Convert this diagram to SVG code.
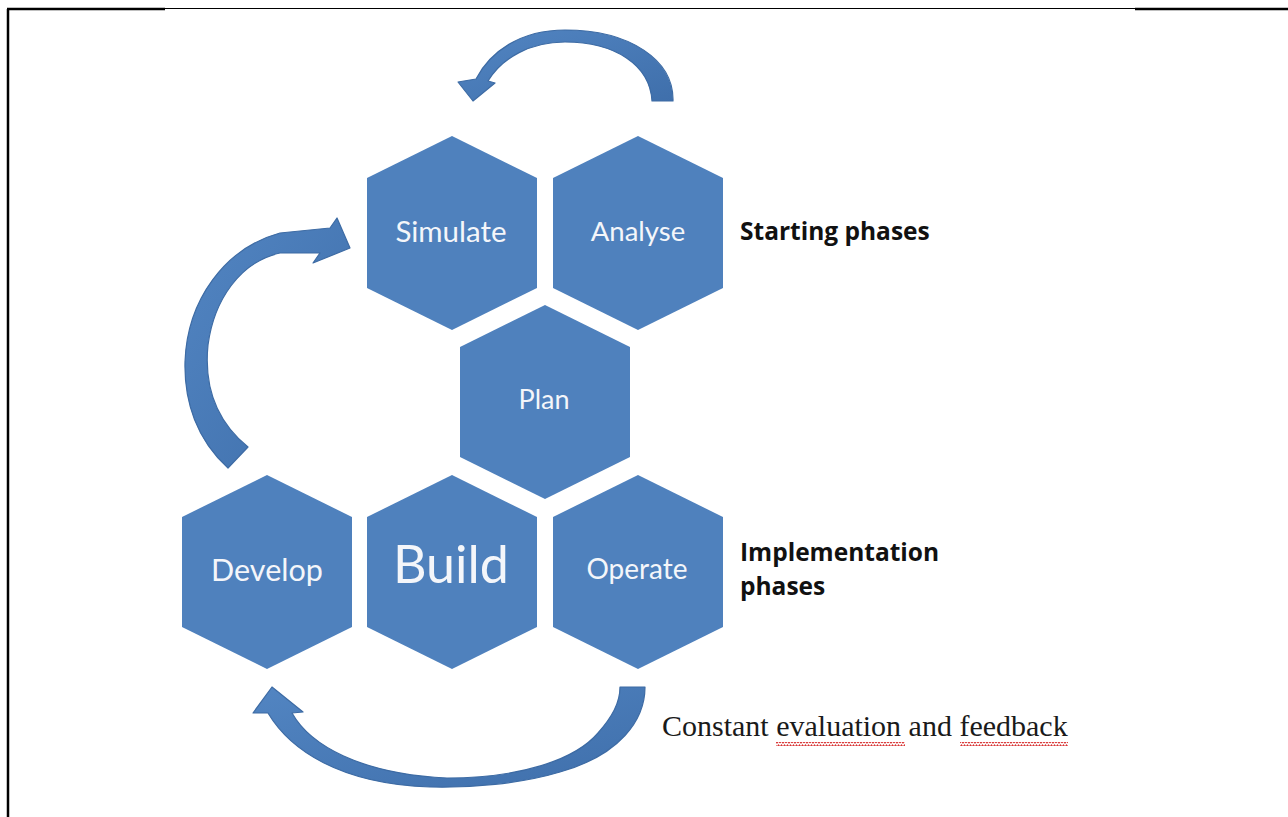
<svg xmlns="http://www.w3.org/2000/svg" width="1288" height="817" viewBox="0 0 1288 817">
  <style>
    .hex { fill: #4f81bd; }
    .lbl { fill: #f4f6fa; font-family: Lato, "Open Sans", sans-serif; text-anchor: middle; }
    .arrow { fill: url(#arrowFill); stroke: #3d6ba4; stroke-width: 1.2; stroke-linejoin: round; }
    .side { fill: #111; font-family: "Open Sans", "Noto Sans", sans-serif; font-weight: bold; font-size: 24.5px; }
    .note { fill: #1a1a1a; font-family: "Liberation Serif", serif; font-size: 30px; }
    .frame { stroke: #000; fill: none; }
  </style>
  <defs>
    <linearGradient id="arrowFill" x1="0" y1="0" x2="1" y2="1">
      <stop offset="0" stop-color="#5285c2"/>
      <stop offset="1" stop-color="#3f6fab"/>
    </linearGradient>
    <pattern id="wave" width="6" height="4" patternUnits="userSpaceOnUse">
      <path d="M0 3 L1.5 1 L3 3 L4.5 1 L6 3" fill="none" stroke="#d93434" stroke-width="1.2"/>
    </pattern>
  </defs>

  <!-- page frame -->
  <g id="frame">
    <line class="frame" x1="8" y1="9" x2="8" y2="817" stroke-width="2.5"/>
    <line class="frame" x1="7" y1="9" x2="165" y2="9" stroke-width="2.5"/>
    <line class="frame" x1="165" y1="8.5" x2="1135" y2="8.5" stroke-width="1"/>
    <line class="frame" x1="1135" y1="9" x2="1288" y2="9" stroke-width="2.5"/>
  </g>

  <!-- curved feedback arrows -->
  <g id="connectors">
    <path id="arrow-top" class="arrow" d="M673 101 C674 60 630 30 565 30 C520 30 490 52 476 79 L458 82 L473 101 L495 83 L488 81 C502 58 530 42 565 42 C615 42 650 65 652 101 Z"/>
    <path id="arrow-left" class="arrow" d="M228 468 C197 440 184 402 185 362 C187 300 225 248 280 233 L330 228 L337 218 L350 248 L313 263 L320 253 L280 253 C240 262 214 300 208 345 C204 385 215 420 248 447 Z"/>
    <path id="arrow-bottom" class="arrow" d="M645 687 C645 720 620 755 560 772 C520 784 470 788 430 787 C340 784 290 750 268 713 L253 713 L272 687 L303 712 L292 713 C310 745 360 774 447 778 C520 778 575 760 598 733 C612 717 620 703 620 687 Z"/>
  </g>

  <!-- phase hexagons -->
  <g id="node-simulate">
    <polygon class="hex" points="452,136 537,178 537,288 452,330 367,288 367,178"/>
    <text class="lbl" x="451" y="242" font-size="29.5">Simulate</text>
  </g>
  <g id="node-analyse">
    <polygon class="hex" points="638,136 723,178 723,288 638,330 553,288 553,178"/>
    <text class="lbl" x="638" y="241" font-size="27.5">Analyse</text>
  </g>
  <g id="node-plan">
    <polygon class="hex" points="545,305 630,347 630,457 545,499 460,457 460,347"/>
    <text class="lbl" x="544" y="409" font-size="27">Plan</text>
  </g>
  <g id="node-develop">
    <polygon class="hex" points="267,475 352,517 352,627 267,669 182,627 182,517"/>
    <text class="lbl" x="267" y="581" font-size="30.5">Develop</text>
  </g>
  <g id="node-build">
    <polygon class="hex" points="452,475 537,517 537,627 452,669 367,627 367,517"/>
    <text class="lbl" x="451" y="583" font-size="52">Build</text>
  </g>
  <g id="node-operate">
    <polygon class="hex" points="638,475 723,517 723,627 638,669 553,627 553,517"/>
    <text class="lbl" x="637" y="579" font-size="28">Operate</text>
  </g>

  <!-- side annotations -->
  <g id="label-starting">
    <text class="side" x="740" y="240" font-size="24">Starting phases</text>
  </g>
  <g id="label-implementation">
    <text class="side" x="740" y="561">Implementation</text>
    <text class="side" x="740" y="595">phases</text>
  </g>
  <g id="label-feedback">
    <text class="note" x="662" y="736">Constant evaluation and feedback</text>
    <rect x="776" y="742" width="129" height="4" fill="url(#wave)"/>
    <rect x="960" y="742" width="108" height="4" fill="url(#wave)"/>
  </g>
</svg>
